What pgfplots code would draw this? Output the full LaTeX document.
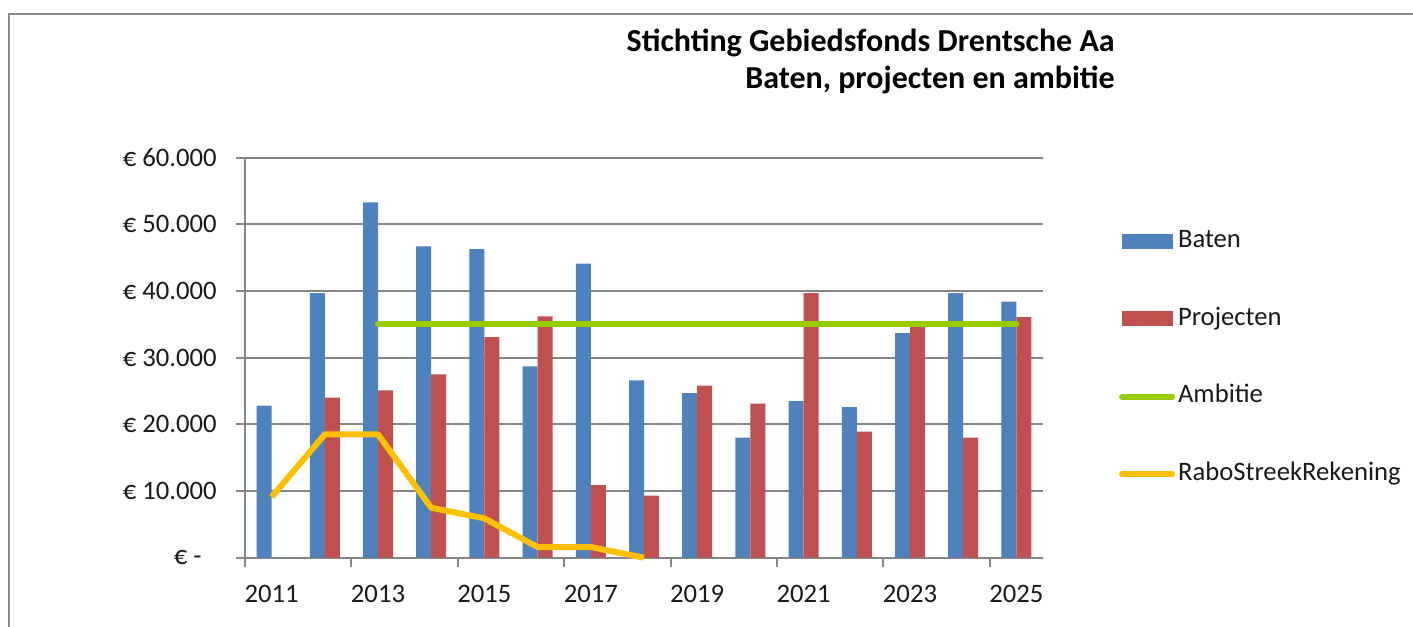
\documentclass[border=0pt]{standalone}
\usepackage{fontspec}
\setmainfont{Carlito}
\usepackage{pgfplots}
\pgfplotsset{compat=1.18}

\definecolor{baten}{HTML}{4F81BD}
\definecolor{proj}{HTML}{C0504D}
\definecolor{amb}{HTML}{99CC00}
\definecolor{rabo}{HTML}{FFC000}
\definecolor{gridc}{HTML}{868686}
\definecolor{framec}{HTML}{8A8A8A}
\definecolor{txt}{HTML}{1A1A1A}

\begin{document}
\begin{tikzpicture}[x=0.75pt,y=0.75pt]
\useasboundingbox (0,0) rectangle (1413,626);
\fill[white] (0,0) rectangle (1413,626);
\draw[framec, line width=1.5pt] (9,-5) -- (9,612) -- (1420,612);
\begin{axis}[
  at={(183.75pt,51.225pt)}, anchor=south west,
  scale only axis, width=598.5pt, height=300pt,
  xmin=2010.5, xmax=2025.5, ymin=0, ymax=60000,
  clip=false,
  scaled y ticks=false, scaled x ticks=false,
  axis x line*=bottom, axis y line*=left,
  axis line style={gridc, line width=1.5pt},
  tick align=outside,
  major tick length=6.75pt,
  tick style={gridc, line width=1.5pt},
  xtick={2010.5,2012.5,...,2024.5},
  xticklabels={,,,,,,,},
  extra x ticks={2011,2013,...,2025},
  extra x tick labels={2011,2013,2015,2017,2019,2021,2023,2025},
  extra x tick style={major tick length=0pt, grid=none},
  xticklabel style={font=\fontsize{20pt}{24pt}\selectfont, text=txt, yshift=-17pt},
  ytick={0,10000,...,60000},
  yticklabels={€ -\kern11.25pt, € 10.000, € 20.000, € 30.000, € 40.000, € 50.000, € 60.000},
  yticklabel style={font=\fontsize{20pt}{24pt}\selectfont, text=txt, xshift=-11pt},
  ymajorgrids,
  grid style={gridc, line width=1.5pt},
  legend style={at={(1.0915,0.5),}, anchor=west, draw=none, fill=none,
    inner sep=0pt, outer sep=0pt, row sep=39.8pt,
    font=\fontsize{20pt}{24pt}\selectfont, text=txt,
    nodes={inner sep=0pt, text height=14pt, text depth=4.5pt},
    /tikz/every even column/.style={column sep=3.75pt}},
  legend cell align=left,
]
\addplot[ybar, bar width=11.25pt, bar shift=-5.625pt, fill=baten, draw=none,
  legend image code/.code={\fill[baten] (2.25pt,-5.6pt) rectangle (40.5pt,5.6pt); \path (0pt,0pt) (42pt,0pt);}]
  coordinates {(2011,22800) (2012,39700) (2013,53300) (2014,46700) (2015,46300)
  (2016,28700) (2017,44100) (2018,26600) (2019,24700) (2020,18000) (2021,23500)
  (2022,22600) (2023,33700) (2024,39700) (2025,38400)};
\addlegendentry{Baten}
\addplot[ybar, bar width=11.25pt, bar shift=5.625pt, fill=proj, draw=none,
  legend image code/.code={\fill[proj] (2.25pt,-5.6pt) rectangle (40.5pt,5.6pt); \path (0pt,0pt) (42pt,0pt);}]
  coordinates {(2012,24000) (2013,25100) (2014,27500) (2015,33100)
  (2016,36200) (2017,10900) (2018,9300) (2019,25800) (2020,23100) (2021,39700)
  (2022,18900) (2023,34600) (2024,18000) (2025,36100)};
\addlegendentry{Projecten}
\addplot[amb, line width=4.5pt, line cap=round,
  legend image code/.code={\draw[amb, line width=4.5pt, line cap=round] (2.25pt,0pt) -- (39.75pt,0pt); \path (0pt,0pt) (42pt,0pt);}]
  coordinates {(2013,35000) (2025,35000)};
\addlegendentry{Ambitie}
\addplot[rabo, line width=4.5pt, line join=round,
  legend image code/.code={\draw[rabo, line width=4.5pt, line cap=round] (2.25pt,0pt) -- (39.75pt,0pt); \path (0pt,0pt) (42pt,0pt);}]
  coordinates {(2011,9100) (2012,18500) (2013,18500) (2014,7500) (2015,5900)
  (2016,1600) (2017,1600) (2018,0)};
\addlegendentry{RaboStreekRekening}
\end{axis}
\node[anchor=base east, inner sep=0pt, text=black, font=\bfseries\fontsize{24pt}{28pt}\selectfont] at (1115,574) {Stichting Gebiedsfonds Drentsche Aa};
\node[anchor=base east, inner sep=0pt, text=black, font=\bfseries\fontsize{24pt}{28pt}\selectfont] at (1115,537) {Baten, projecten en ambitie};
\end{tikzpicture}
\end{document}
